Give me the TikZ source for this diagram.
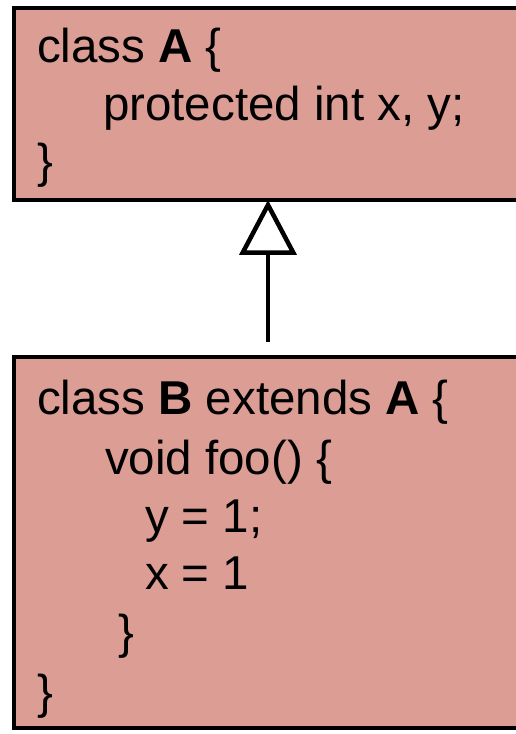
\documentclass[tikz,border=0pt]{standalone}
\usepackage{fontspec}
\setmainfont{Liberation Sans}
\usetikzlibrary{arrows.meta}
\definecolor{classfill}{RGB}{219,157,148}
\tikzset{
  classbox/.style={draw=black, line width=4.5pt, fill=classfill},
  codeline/.style={anchor=base west, inner sep=0pt, outer sep=0pt,
    font=\fontsize{47.5}{52}\selectfont},
  inherits/.style={line width=4.5pt,
    -{Triangle[open, length=55pt, width=57pt, line width=4.5pt]}}
}
\begin{document}
\begin{tikzpicture}[x=1pt, y=1pt]
  \useasboundingbox (0,0) rectangle (516,734);
  % class A
  \draw[classbox] (14,534) rectangle (540,726);
  \coordinate (aArrow) at (268,534);
  \node[codeline] (a1) at (37,671) {class \textbf{A} \{};
  \node[codeline] (a2) at (103,613) {protected int x, y;};
  \node[codeline] (a3) at (37,556) {\}};
  % class B
  \draw[classbox] (14,6) rectangle (540,377);
  \node[codeline] (b1) at (37,319) {class \textbf{B} extends \textbf{A} \{};
  \node[codeline] (b2) at (105,259) {void foo() \{};
  \node[codeline] (b3) at (145,201) {y = 1;};
  \node[codeline] (b4) at (145,144) {x = 1};
  \node[codeline] (b5) at (118,85) {\}};
  \node[codeline] (b6) at (37,25) {\}};
  % generalisation arrow from B up to A
  \coordinate (bArrow) at (268,392);
  \draw[inherits] (bArrow) -- (aArrow);
\end{tikzpicture}
\end{document}
